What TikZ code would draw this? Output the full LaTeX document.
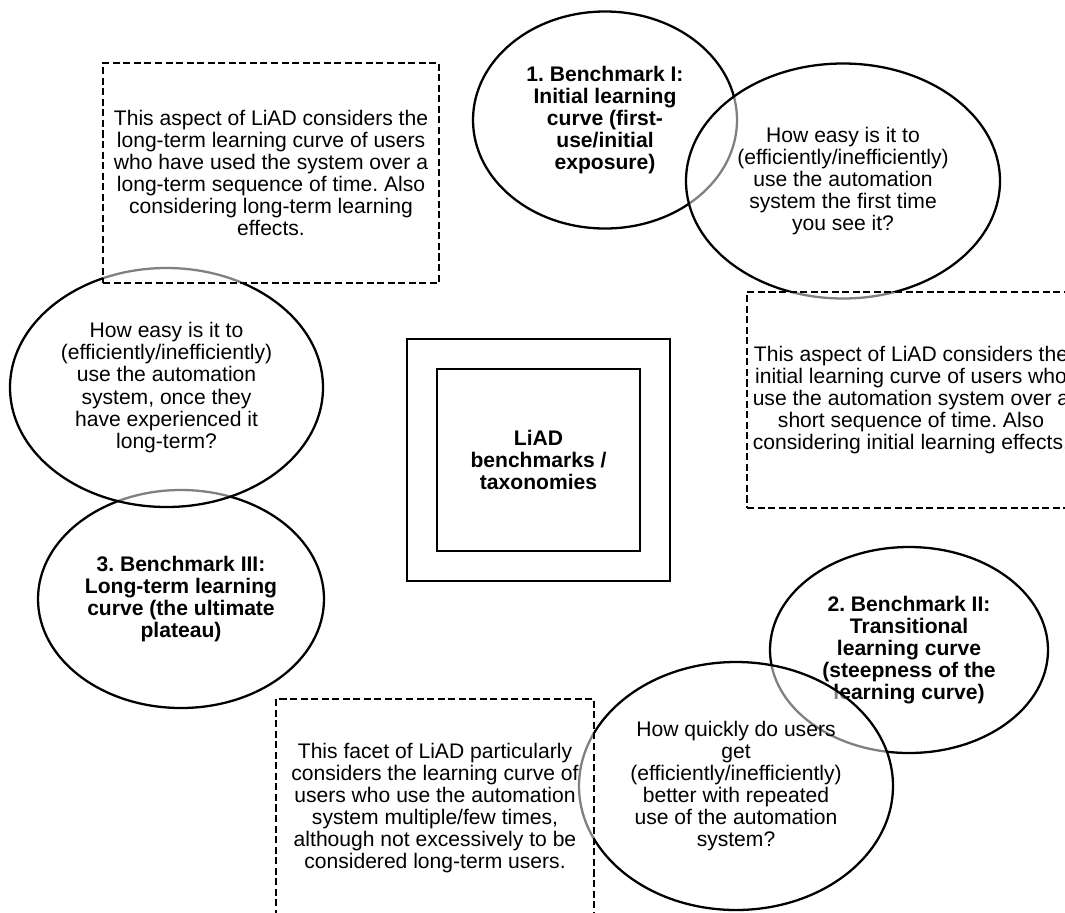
\documentclass[tikz,border=0pt]{standalone}
\usepackage{fontspec}
\setmainfont{Liberation Sans}
\usetikzlibrary{shapes.geometric}
\frenchspacing

\begin{document}
\begin{tikzpicture}[
        bench/.style={ellipse, draw=black, line width=1.3pt, fill=white, fill opacity=0.5, text opacity=1, inner sep=0pt, align=center, font=\fontsize{12}{12.6}\selectfont\bfseries},
        question/.style={ellipse, draw=black, line width=1.3pt, fill=white, fill opacity=0.5, text opacity=1, inner sep=0pt, align=center, font=\fontsize{12}{12.6}\selectfont},
        facet/.style={rectangle, draw=black, line width=1.3pt, dash pattern=on 4pt off 2pt, fill=white, fill opacity=0.5, text opacity=1, inner sep=0pt, align=center, font=\fontsize{12}{12.6}\selectfont},
        core/.style={rectangle, draw=black, line width=1.3pt, inner sep=0pt}
    ]
    \useasboundingbox (0,0) rectangle (21.3,-18.24);
    \clip (0,0) rectangle (21.3,-18.24);

    % Benchmark III (long-term)
    \node[bench, minimum width=5.72cm, minimum height=4.36cm] (bench_three) at (3.62, -11.98) {3. Benchmark III:\\ Long-term learning\\ curve (the ultimate\\ plateau)};
    \node[question, minimum width=6.26cm, minimum height=4.78cm] (q_longterm) at (3.33, -7.75) {How easy is it to\\ (efficiently/inefficiently)\\ use the automation\\ system, once they\\ have experienced it\\ long-term?};
    \node[facet, minimum width=6.72cm, minimum height=4.40cm] (f_longterm) at (5.42, -3.46) {This aspect of LiAD considers the\\ long-term learning curve of users\\ who have used the system over a\\ long-term sequence of time. Also\\ considering long-term learning\\ effects.};

    % Benchmark I (initial)
    \node[bench, minimum width=5.28cm, minimum height=4.34cm] (bench_one) at (12.10, -2.40) {1. Benchmark I:\\ Initial learning\\ curve (first-\\ use/initial\\ exposure)};
    \node[question, minimum width=6.28cm, minimum height=4.70cm] (q_initial) at (16.86, -3.62) {How easy is it to\\ (efficiently/inefficiently)\\ use the automation\\ system the first time\\ you see it?};
    \node[facet, minimum width=6.56cm, minimum height=4.32cm] (f_initial) at (18.22, -8.00) {This aspect of LiAD considers the\\ initial learning curve of users who\\ use the automation system over a\\ short sequence of time. Also\\ considering initial learning effects.};

    % Benchmark II (transitional)
    \node[bench, minimum width=5.56cm, minimum height=4.12cm] (bench_two) at (18.18, -13.00) {2. Benchmark II:\\ Transitional\\ learning curve\\ (steepness of the\\ learning curve)};
    \node[question, minimum width=6.28cm, minimum height=4.96cm] (q_transit) at (14.72, -15.72) {How quickly do users\\ get\\ (efficiently/inefficiently)\\ better with repeated\\ use of the automation\\ system?};
    \node[facet, minimum width=6.36cm, minimum height=4.36cm] (f_transit) at (8.70, -16.16) {This facet of LiAD particularly\\ considers the learning curve of\\ users who use the automation\\ system multiple/few times,\\ although not excessively to be\\ considered long-term users.};

    % Centre
    \node[core, minimum width=5.26cm, minimum height=4.84cm] (liad_outer) at (10.77, -9.20) {};
    \node[core, minimum width=4.06cm, minimum height=3.64cm, align=center, font=\fontsize{12}{12.6}\selectfont\bfseries] (liad) at (liad_outer.center) {LiAD\\ benchmarks /\\ taxonomies};

\end{tikzpicture}
\end{document}
